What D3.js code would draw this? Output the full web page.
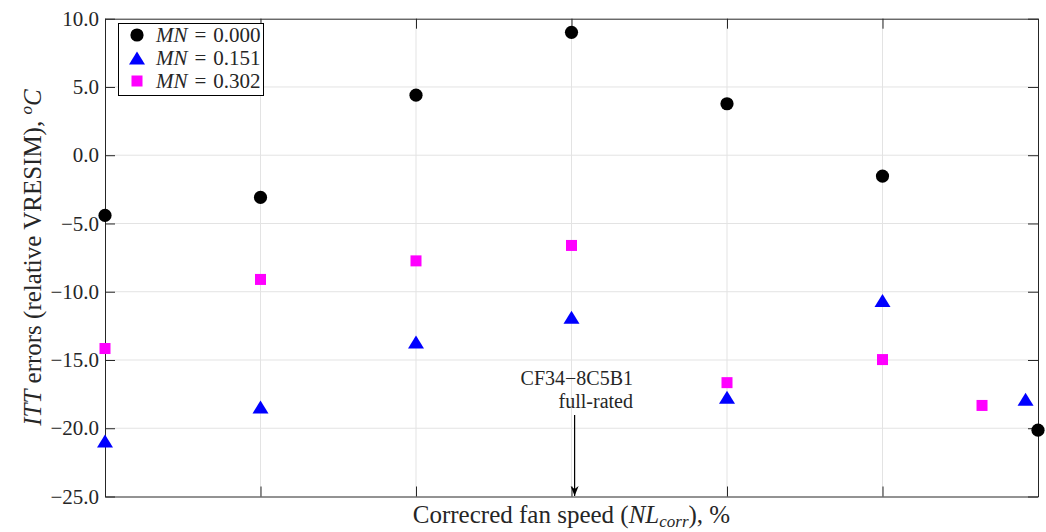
<!DOCTYPE html>
<html>
<head>
<meta charset="utf-8">
<script src="https://cdn.jsdelivr.net/npm/d3@7"></script>
<style>
  body { margin: 0; background: #fff; }
  svg { display: block; }
  text { font-family: "Liberation Serif", "DejaVu Serif", serif; fill: #262626; }
</style>
</head>
<body>
<svg id="chart" width="1046" height="532"></svg>
<script>
// ---- data ----
const xTicks = [0, 1, 2, 3, 4, 5, 6];
const yTicks = [-25, -20, -15, -10, -5, 0, 5, 10];
const yTickLabels = ["\u221225.0", "\u221220.0", "\u221215.0", "\u221210.0", "\u22125.0", "0.0", "5.0", "10.0"];

const xMN000 = [0, 1, 2, 3, 4, 5, 6];
const valMN000 = [-4.41, -3.09, 4.4, 9.0, 3.77, -1.53, -20.14];
const xMN151 = [0, 1, 2, 3, 4, 5, 5.92];
const valMN151 = [-20.94, -18.44, -13.68, -11.87, -17.73, -10.65, -17.87];
const xMN302 = [0, 1, 2, 3, 4, 5, 5.64];
const valMN302 = [-14.16, -9.1, -7.74, -6.61, -16.66, -14.97, -18.33];

const seriesNames = ["0.000", "0.151", "0.302"];
const annotationLines = ["CF34\u22128C5B1", "full-rated"];
const annotationX = 3.02;

// ---- layout ----
const svg = d3.select("#chart");
const L = 105, R = 1038, T = 18.7, B = 496.5;
const x = d3.scaleLinear().domain([0, 6]).range([L, R]);
const y = d3.scaleLinear().domain([-25, 10]).range([B, T]);
const axisColor = "#262626";
const gridColor = "#e3e3e3";

// grid
const grid = svg.append("g");
grid.selectAll(".gx").data(xTicks.slice(1, -1)).join("line")
  .attr("x1", d => x(d)).attr("x2", d => x(d)).attr("y1", T).attr("y2", B)
  .attr("stroke", gridColor).attr("stroke-width", 1);
grid.selectAll(".gy").data(yTicks.slice(1, -1)).join("line")
  .attr("x1", L).attr("x2", R).attr("y1", d => y(d)).attr("y2", d => y(d))
  .attr("stroke", gridColor).attr("stroke-width", 1);

// axes (MATLAB-style inward ticks on all four sides)
const tickLen = 10;
const fmt = (d) => yTickLabels[yTicks.indexOf(d)];
const yAxisL = d3.axisLeft(y).tickValues(yTicks).tickSizeInner(-tickLen).tickSizeOuter(0).tickPadding(6).tickFormat(fmt);
const yAxisR = d3.axisRight(y).tickValues(yTicks).tickSizeInner(-tickLen).tickSizeOuter(0).tickFormat("");
const xAxisB = d3.axisBottom(x).tickValues(xTicks).tickSizeInner(-tickLen).tickSizeOuter(0).tickFormat("");
const xAxisT = d3.axisTop(x).tickValues(xTicks).tickSizeInner(-tickLen).tickSizeOuter(0).tickFormat("");

function styleAxis(g) {
  g.selectAll("path").attr("stroke", axisColor).attr("stroke-width", 1);
  g.selectAll("line").attr("stroke", axisColor).attr("stroke-width", 1);
}
svg.append("g").attr("transform", `translate(${L},0)`).call(yAxisL).call(styleAxis)
  .selectAll("text").attr("font-size", 21).attr("fill", axisColor)
  .attr("font-family", "Liberation Serif, serif");
svg.append("g").attr("transform", `translate(${R},0)`).call(yAxisR).call(styleAxis);
svg.append("g").attr("transform", `translate(0,${B})`).call(xAxisB).call(styleAxis);
svg.append("g").attr("transform", `translate(0,${T})`).call(xAxisT).call(styleAxis);

// axis labels
const xl = svg.append("text").attr("x", (L + R) / 2).attr("y", 523)
  .attr("text-anchor", "middle").attr("font-size", 25);
xl.append("tspan").text("Correcred fan speed (");
xl.append("tspan").attr("font-style", "italic").text("NL");
xl.append("tspan").attr("font-style", "italic").attr("font-size", 17).attr("dy", 4).text("corr");
xl.append("tspan").attr("dy", -4).text("), %");

const yl = svg.append("text").attr("transform", `translate(41,${(T + B) / 2}) rotate(-90)`)
  .attr("text-anchor", "middle").attr("font-size", 25);
yl.append("tspan").attr("font-style", "italic").text("ITT");
yl.append("tspan").text(" errors (relative VRESIM), ");
yl.append("tspan").attr("font-style", "italic").attr("font-size", 17).attr("dy", -9).text("o");
yl.append("tspan").attr("font-style", "italic").attr("dy", 9).text("C");

// markers
const marks = svg.append("g");
marks.selectAll(".c").data(xMN000.map((d, i) => [d, valMN000[i]])).join("circle")
  .attr("cx", d => x(d[0])).attr("cy", d => y(d[1])).attr("r", 6.6).attr("fill", "#000");

const triPath = (cx, cy, w, h) => `M${cx},${cy - h / 2}L${cx + w / 2},${cy + h / 2}L${cx - w / 2},${cy + h / 2}Z`;
marks.selectAll(".t").data(xMN151.map((d, i) => [d, valMN151[i]])).join("path")
  .attr("d", d => triPath(x(d[0]), y(d[1]), 16, 13)).attr("fill", "#0000ff");

const sq = 11;
marks.selectAll(".s").data(xMN302.map((d, i) => [d, valMN302[i]])).join("rect")
  .attr("x", d => x(d[0]) - sq / 2).attr("y", d => y(d[1]) - sq / 2)
  .attr("width", sq).attr("height", sq).attr("fill", "#ff00ff");

// annotation
const ax = x(annotationX);
svg.append("defs").append("marker").attr("id", "arr")
  .attr("viewBox", "0 0 10 10").attr("refX", 10).attr("refY", 5)
  .attr("markerWidth", 10).attr("markerHeight", 10).attr("markerUnits", "userSpaceOnUse")
  .attr("orient", "auto")
  .append("path").attr("d", "M0,1 L10,5 L0,9 L3,5 Z").attr("fill", "#000");
svg.append("line").attr("x1", ax).attr("x2", ax).attr("y1", 415).attr("y2", B - 0.5)
  .attr("stroke", "#000").attr("stroke-width", 1.2).attr("marker-end", "url(#arr)");
svg.selectAll(".ann").data(annotationLines).join("text")
  .attr("x", 633).attr("y", (d, i) => 385 + i * 23)
  .attr("text-anchor", "end").attr("font-size", 20).attr("fill", "#000").text(d => d);

// legend
const lg = svg.append("g");
lg.append("rect").attr("x", 118.5).attr("y", 23.5).attr("width", 145).attr("height", 72)
  .attr("fill", "#fff").attr("stroke", "#000").attr("stroke-width", 1);
const ly = [35, 58, 81];
lg.append("circle").attr("cx", 137).attr("cy", ly[0]).attr("r", 6.6).attr("fill", "#000");
lg.append("path").attr("d", triPath(137, ly[1], 16, 13)).attr("fill", "#0000ff");
lg.append("rect").attr("x", 137 - sq / 2).attr("y", ly[2] - sq / 2).attr("width", sq).attr("height", sq).attr("fill", "#ff00ff");
seriesNames.forEach((s, i) => {
  const t = lg.append("text").attr("x", 156).attr("y", ly[i] + 7).attr("font-size", 21).attr("fill", "#000");
  t.append("tspan").attr("font-style", "italic").text("MN");
  t.append("tspan").text("\u2004=\u2004" + s);
});
</script>
</body>
</html>
